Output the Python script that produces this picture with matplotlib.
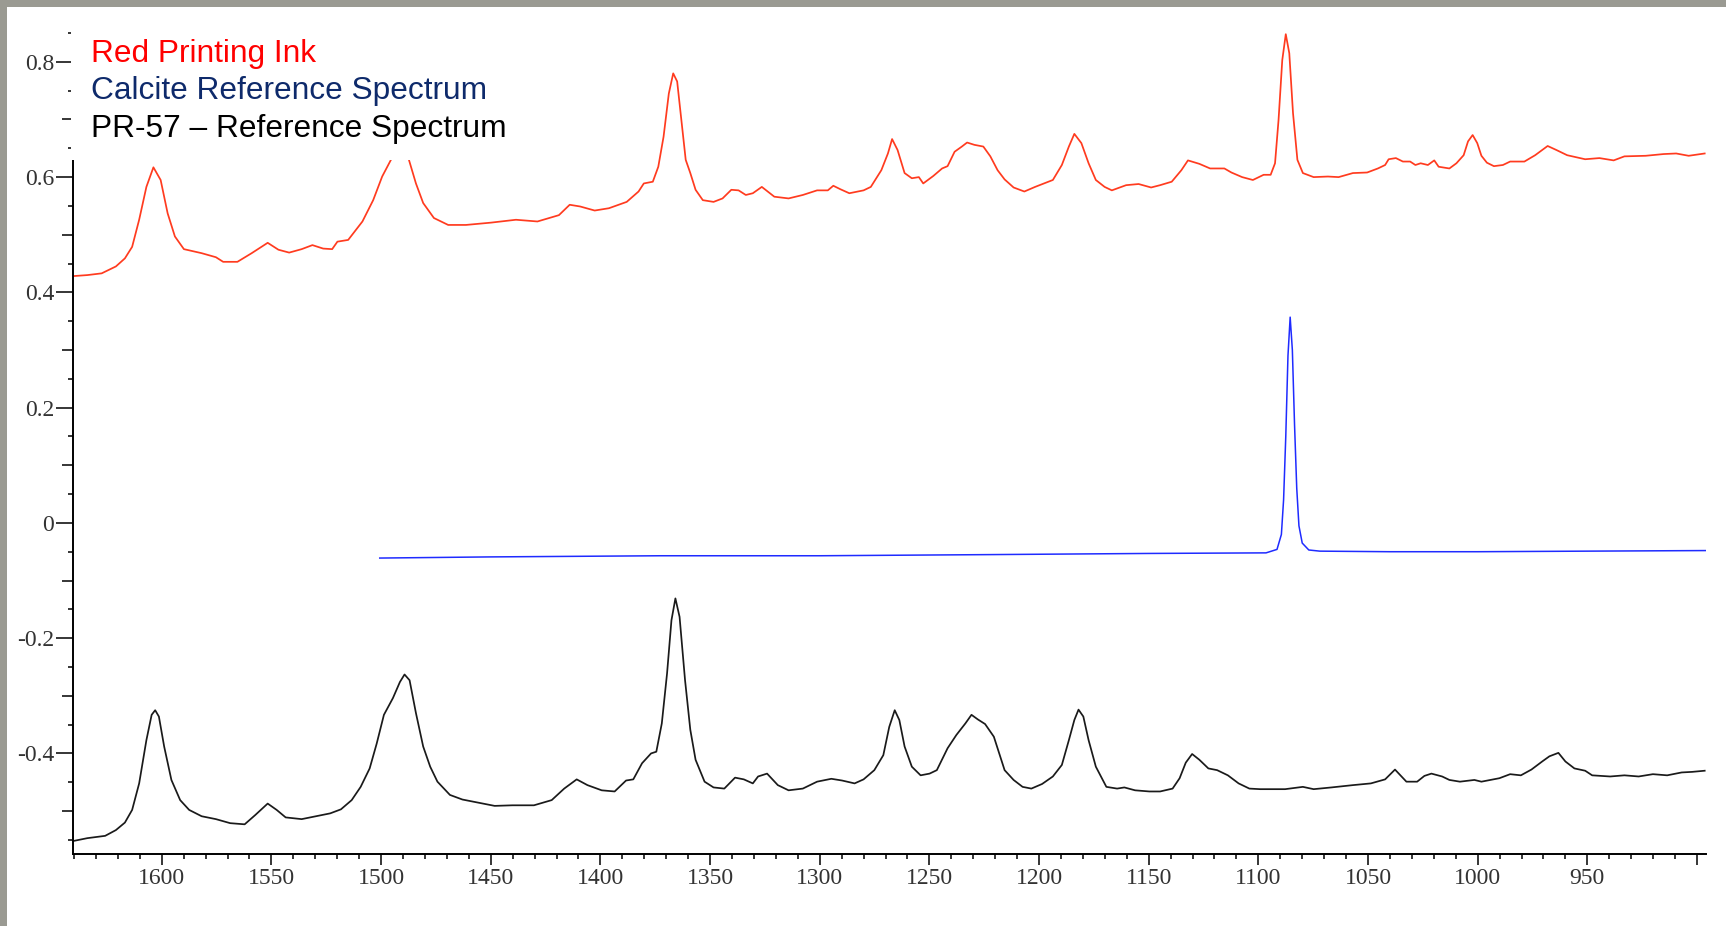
import matplotlib.pyplot as plt
from matplotlib.patches import Rectangle
from matplotlib.ticker import MultipleLocator, FixedLocator, FuncFormatter

# Raman shift (cm-1) and intensity
red_wn = [1641.2, 1633.9, 1627.4, 1620.9, 1616.8, 1613.5, 1610.3, 1607.0, 1603.8, 1600.5,
          1597.3, 1594.0, 1589.9, 1581.8, 1575.3, 1572.0, 1565.5, 1559.0, 1551.7, 1546.8,
          1541.9, 1536.2, 1531.3, 1526.4, 1522.3, 1519.9, 1515.0, 1508.5, 1503.6, 1499.5,
          1495.5, 1493.5, 1490.0, 1487.3, 1484.1, 1480.8, 1475.9, 1469.4, 1461.3, 1449.9,
          1438.5, 1428.7, 1418.9, 1414.0, 1409.2, 1402.6, 1396.1, 1388.0, 1382.6, 1380.2,
          1376.1, 1373.6, 1371.2, 1368.8, 1366.8, 1365.0, 1363.1, 1361.1, 1359.0, 1356.6,
          1353.3, 1348.4, 1344.3, 1340.3, 1337.0, 1333.7, 1330.5, 1326.4, 1320.7, 1314.2,
          1307.7, 1301.2, 1296.3, 1293.8, 1290.6, 1286.5, 1280.0, 1276.7, 1271.9, 1268.9,
          1267.0, 1264.5, 1261.3, 1258.0, 1254.8, 1252.8, 1248.2, 1244.2, 1241.7, 1238.5,
          1235.2, 1232.8, 1229.5, 1225.4, 1222.2, 1218.9, 1215.7, 1211.6, 1206.7, 1201.8,
          1197.8, 1193.7, 1189.6, 1186.4, 1183.9, 1180.7, 1177.4, 1174.1, 1170.1, 1166.8,
          1160.3, 1154.6, 1148.9, 1144.8, 1139.5, 1135.1, 1132.1, 1126.9, 1122.0, 1115.5,
          1112.3, 1107.4, 1102.5, 1097.6, 1094.4, 1092.4, 1090.8, 1089.1, 1087.5, 1085.9,
          1084.2, 1082.2, 1079.7, 1074.8, 1068.3, 1063.4, 1056.9, 1050.4, 1045.5, 1042.2,
          1040.6, 1037.3, 1034.1, 1030.8, 1028.4, 1026.0, 1022.7, 1019.8, 1017.8, 1012.9,
          1009.7, 1006.4, 1004.4, 1002.3, 1000.2, 998.3, 995.8, 992.6, 988.5, 985.2,
          978.7, 973.8, 968.1, 964.1, 959.2, 951.0, 944.5, 938.0, 933.1, 923.4,
          915.2, 909.5, 903.8, 896.5]
red_val = [0.428, 0.430, 0.433, 0.445, 0.459, 0.479, 0.526, 0.583, 0.617, 0.595,
           0.537, 0.497, 0.475, 0.468, 0.461, 0.453, 0.453, 0.468, 0.486, 0.474,
           0.469, 0.475, 0.482, 0.476, 0.475, 0.488, 0.491, 0.523, 0.560, 0.601,
           0.630, 0.650, 0.662, 0.630, 0.589, 0.555, 0.529, 0.517, 0.517, 0.521,
           0.526, 0.523, 0.534, 0.552, 0.549, 0.542, 0.546, 0.557, 0.575, 0.589,
           0.592, 0.618, 0.670, 0.745, 0.780, 0.766, 0.699, 0.630, 0.607, 0.578,
           0.560, 0.557, 0.563, 0.578, 0.577, 0.569, 0.572, 0.583, 0.566, 0.563,
           0.569, 0.577, 0.577, 0.585, 0.579, 0.572, 0.577, 0.583, 0.612, 0.641,
           0.666, 0.647, 0.607, 0.598, 0.600, 0.589, 0.602, 0.615, 0.619, 0.644,
           0.653, 0.660, 0.656, 0.653, 0.636, 0.612, 0.596, 0.582, 0.575, 0.583,
           0.589, 0.595, 0.621, 0.653, 0.675, 0.659, 0.624, 0.595, 0.583, 0.577,
           0.586, 0.588, 0.582, 0.586, 0.592, 0.612, 0.629, 0.623, 0.615, 0.615,
           0.608, 0.600, 0.595, 0.604, 0.604, 0.624, 0.699, 0.803, 0.848, 0.815,
           0.711, 0.630, 0.607, 0.600, 0.601, 0.600, 0.607, 0.608, 0.615, 0.621,
           0.631, 0.633, 0.627, 0.627, 0.621, 0.624, 0.621, 0.629, 0.618, 0.615,
           0.624, 0.638, 0.662, 0.673, 0.659, 0.637, 0.625, 0.619, 0.621, 0.627,
           0.627, 0.638, 0.654, 0.647, 0.638, 0.631, 0.633, 0.629, 0.636, 0.637,
           0.640, 0.641, 0.637, 0.641]

calcite_wn = [1500.6, 1450.0, 1372.6, 1300.0, 1222.0, 1150.0, 1096.5, 1091.5, 1089.5, 1088.5,
              1087.5, 1086.5, 1085.5, 1084.5, 1083.5, 1082.5, 1081.5, 1080.0, 1077.0, 1072.0,
              1040.0, 1000.0, 950.0, 896.0]
calcite_val = [-0.061, -0.059, -0.057, -0.057, -0.055, -0.053, -0.052, -0.046, -0.020, 0.040,
               0.150, 0.290, 0.357, 0.300, 0.170, 0.060, -0.005, -0.035, -0.047, -0.049,
               -0.050, -0.050, -0.049, -0.048]

pr57_wn = [1640.4, 1633.9, 1625.8, 1620.9, 1616.8, 1613.5, 1610.3, 1607.0, 1604.6, 1603.0,
           1601.3, 1598.9, 1595.6, 1591.6, 1587.5, 1581.8, 1575.3, 1568.8, 1562.2, 1557.4,
           1551.7, 1547.6, 1543.5, 1536.2, 1529.7, 1523.2, 1518.3, 1513.4, 1509.3, 1505.2,
           1502.0, 1498.7, 1494.6, 1491.4, 1489.3, 1487.0, 1484.1, 1480.8, 1477.6, 1474.3,
           1468.6, 1462.9, 1454.8, 1448.2, 1440.1, 1430.3, 1422.2, 1416.5, 1410.8, 1405.9,
           1399.4, 1393.5, 1388.3, 1385.0, 1381.0, 1376.9, 1374.5, 1372.0, 1369.6, 1367.6,
           1365.8, 1363.9, 1361.4, 1359.0, 1356.6, 1352.5, 1348.4, 1343.5, 1338.6, 1334.6,
           1330.5, 1328.1, 1324.0, 1319.1, 1314.2, 1307.7, 1301.2, 1294.7, 1289.8, 1284.1,
           1280.0, 1275.1, 1271.0, 1268.3, 1265.8, 1263.7, 1261.3, 1258.0, 1254.0, 1249.9,
           1246.6, 1241.7, 1237.7, 1233.6, 1230.8, 1227.9, 1224.6, 1220.6, 1215.7, 1211.6,
           1207.5, 1203.5, 1198.6, 1193.7, 1189.6, 1186.4, 1183.9, 1182.0, 1179.8, 1177.4,
           1174.1, 1169.3, 1164.4, 1161.1, 1156.2, 1149.7, 1144.8, 1139.1, 1135.9, 1133.1,
           1130.2, 1126.9, 1122.8, 1118.8, 1113.9, 1109.0, 1104.1, 1099.2, 1087.8, 1079.7,
           1074.8, 1066.7, 1056.9, 1048.7, 1042.2, 1037.7, 1032.5, 1027.6, 1024.3, 1021.1,
           1016.2, 1012.9, 1008.1, 1001.5, 998.3, 990.1, 985.2, 980.3, 975.5, 970.6,
           967.3, 963.2, 960.0, 955.9, 951.0, 947.8, 939.6, 933.1, 926.6, 920.1,
           913.6, 907.0, 902.2, 896.5]
pr57_val = [-0.552, -0.547, -0.543, -0.533, -0.520, -0.498, -0.452, -0.377, -0.333, -0.325,
            -0.336, -0.388, -0.446, -0.481, -0.498, -0.509, -0.514, -0.521, -0.523, -0.507,
            -0.487, -0.498, -0.511, -0.514, -0.509, -0.504, -0.497, -0.481, -0.458, -0.426,
            -0.383, -0.333, -0.304, -0.276, -0.263, -0.273, -0.330, -0.388, -0.423, -0.449,
            -0.472, -0.480, -0.486, -0.491, -0.490, -0.490, -0.481, -0.461, -0.445, -0.455,
            -0.464, -0.466, -0.447, -0.445, -0.417, -0.400, -0.397, -0.348, -0.261, -0.169,
            -0.131, -0.163, -0.273, -0.359, -0.411, -0.449, -0.459, -0.461, -0.442, -0.445,
            -0.452, -0.440, -0.435, -0.455, -0.464, -0.461, -0.449, -0.444, -0.447, -0.452,
            -0.445, -0.429, -0.403, -0.354, -0.325, -0.342, -0.388, -0.423, -0.438, -0.435,
            -0.429, -0.391, -0.368, -0.348, -0.333, -0.341, -0.349, -0.371, -0.429, -0.446,
            -0.458, -0.461, -0.453, -0.440, -0.420, -0.377, -0.342, -0.324, -0.336, -0.377,
            -0.423, -0.458, -0.461, -0.459, -0.464, -0.466, -0.466, -0.461, -0.443, -0.416,
            -0.401, -0.411, -0.426, -0.429, -0.438, -0.452, -0.461, -0.462, -0.462, -0.458,
            -0.462, -0.459, -0.455, -0.452, -0.445, -0.428, -0.449, -0.449, -0.439, -0.435,
            -0.440, -0.446, -0.449, -0.446, -0.449, -0.443, -0.436, -0.438, -0.428, -0.414,
            -0.405, -0.399, -0.414, -0.426, -0.430, -0.438, -0.440, -0.438, -0.440, -0.436,
            -0.438, -0.433, -0.432, -0.430]

legend_labels = ['Red Printing Ink', 'Calcite Reference Spectrum', 'PR-57 \u2013 Reference Spectrum']
legend_colors = ['#ff0000', '#0e2a6b', '#000000']

W, H = 1726, 926
fig = plt.figure(figsize=(W / 100, H / 100), dpi=100)
ax = fig.add_axes([72.7 / W, 72 / H, (1706 - 72.7) / W, 854 / H])

ax.plot(red_wn, red_val, color='#ff3b1f', lw=1.25)
ax.plot(calcite_wn, calcite_val, color='#1f2bff', lw=1.1)
ax.plot(pr57_wn, pr57_val, color='#1a1a1a', lw=1.25)

ax.set_xlim(1640.6, 895.9)
ax.set_ylim(-0.5745, 0.9073)
ax.spines[['top', 'right']].set_visible(False)
ax.spines[['left', 'bottom']].set_linewidth(1.4)

tick_font = {'family': 'Liberation Serif', 'size': 17}

ax.xaxis.set_major_locator(MultipleLocator(50))
ax.xaxis.set_minor_locator(MultipleLocator(10))
ax.xaxis.set_major_formatter(FuncFormatter(lambda v, p: '' if v < 925 else f'{v:.0f}'))
ax.tick_params(axis='x', which='major', direction='out', length=8, width=1.1, pad=2,
               labelcolor='#333333')
ax.tick_params(axis='x', which='minor', direction='out', length=3.3, width=1.1)

ax.yaxis.set_major_locator(MultipleLocator(0.2))
ax.yaxis.set_minor_locator(FixedLocator([-0.5, -0.3, -0.1, 0.1, 0.3, 0.5, 0.7, 0.9]))
ax.yaxis.set_major_formatter(FuncFormatter(lambda v, p: f'{round(v, 1) + 0:g}'))
ax.tick_params(axis='y', which='major', direction='out', length=12.2, width=1.1, pad=1,
               labelcolor='#333333')
ax.tick_params(axis='y', which='minor', direction='out', length=7.9, width=1.1)
for lbl in ax.get_xticklabels() + ax.get_yticklabels():
    lbl.set_fontfamily(tick_font['family'])
    lbl.set_fontsize(tick_font['size'])

# short ticks every 0.05
sec = ax.secondary_yaxis('left')
sec.set_yticks([-0.55, -0.45, -0.35, -0.25, -0.15, -0.05, 0.05, 0.15, 0.25, 0.35,
                0.45, 0.55, 0.65, 0.75, 0.85])
sec.tick_params(direction='out', length=3.6, width=1.1, labelleft=False)
sec.spines['left'].set_visible(False)

# legend block sits on a white panel over the top-left corner of the plot
fig.add_artist(Rectangle((71.3 / W, 1 - 160 / H), (520 - 71.3) / W, 160 / H,
                         transform=fig.transFigure, facecolor='white', edgecolor='none', zorder=3))
for i, (lab, col) in enumerate(zip(legend_labels, legend_colors)):
    fig.text(91 / W, 1 - (61.7 + 37.8 * i) / H, lab, color=col, fontsize=22.8,
             family='Liberation Sans', va='baseline', zorder=4)

# grey slide border on top and left
fig.add_artist(Rectangle((0, 1 - 7 / H), 1, 7 / H, transform=fig.transFigure,
                         facecolor='#9a9a92', edgecolor='none', zorder=5))
fig.add_artist(Rectangle((0, 0), 7 / W, 1, transform=fig.transFigure,
                         facecolor='#9a9a92', edgecolor='none', zorder=5))

fig.savefig('out.png', dpi=100)
